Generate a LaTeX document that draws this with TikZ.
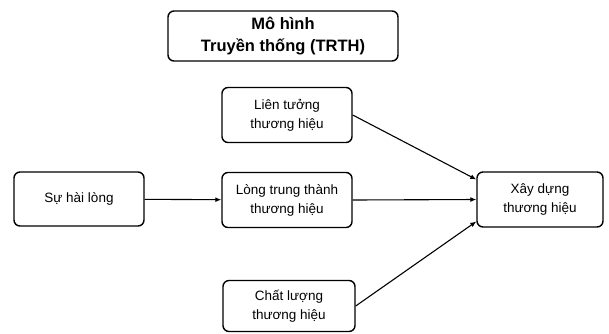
\documentclass[tikz,border=0pt]{standalone}
\usepackage{fontspec}
\setmainfont{Liberation Sans}
\usetikzlibrary{arrows.meta}

\begin{document}
\begin{tikzpicture}[x=1pt, y=-1pt,
        box/.style={draw, rounded corners=6pt, line width=1.4pt, minimum width=130pt,
          minimum height=55pt, align=center, font=\fontsize{13.5}{19}\selectfont},
        link/.style={-{Latex[length=6pt, width=5pt]}, line width=1.1pt}]
      \useasboundingbox (0,0) rectangle (609,333);
      % Title
      \node[box, minimum width=230pt, minimum height=50pt,
        font=\bfseries\fontsize{16.5}{22}\selectfont] (title) at (283,36) {Mô hình\\Truyền thống (TRTH)};
      % Boxes
      \node[box] (lientuong) at (287,115) {Liên tưởng\\thương hiệu};
      \node[box, minimum height=54pt] (suhailong) at (79,199) {Sự hài lòng};
      \node[box] (trungthanh) at (287,200) {Lòng trung thành\\thương hiệu};
      \node[box, minimum width=132pt, minimum height=51pt] (chatluong) at (289,306) {Chất lượng\\thương hiệu};
      \node[box, minimum width=126pt] (xaydung) at (540,199.5) {Xây dựng\\thương hiệu};

      \draw[link] (suhailong) -- (trungthanh);
      \draw[link] (lientuong.east) -- ([yshift=20pt]xaydung.west);
      \draw[link] (trungthanh.east) -- (xaydung.west);
      \draw[link] (chatluong.east) -- ([yshift=-22pt]xaydung.west);
    \end{tikzpicture}
\end{document}
